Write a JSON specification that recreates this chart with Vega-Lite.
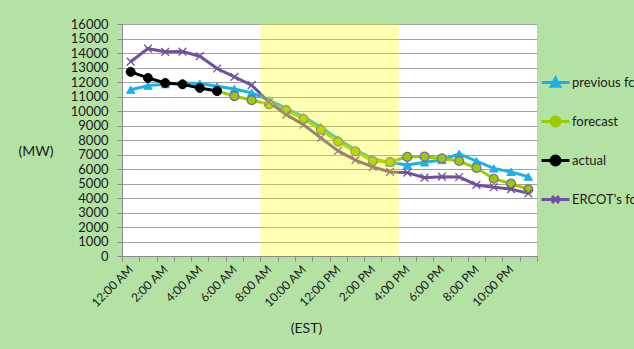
{
  "$schema": "https://vega.github.io/schema/vega-lite/v6.json",
  "width": 415,
  "height": 232,
  "autosize": {"type": "none"},
  "padding": {"left": 122, "top": 24, "right": 100, "bottom": 93},
  "background": "#b4e2a4",
  "config": {
    "font": "Lato",
    "view": {"stroke": null, "fill": "white"},
    "axis": {"labelFont": "Lato", "titleFont": "Lato", "labelColor": "#1a1a1a", "titleColor": "#1a1a1a", "titleFontWeight": "normal", "domainColor": "#8c8c8c", "tickColor": "#8c8c8c", "tickSize": 5}
  },
  "data": {"values": [
    {"hour": 0, "series": "previous fcst", "mw": 11470},
    {"hour": 1, "series": "previous fcst", "mw": 11750},
    {"hour": 2, "series": "previous fcst", "mw": 11850},
    {"hour": 3, "series": "previous fcst", "mw": 11930},
    {"hour": 4, "series": "previous fcst", "mw": 11890},
    {"hour": 5, "series": "previous fcst", "mw": 11700},
    {"hour": 6, "series": "previous fcst", "mw": 11520},
    {"hour": 7, "series": "previous fcst", "mw": 11250},
    {"hour": 8, "series": "previous fcst", "mw": 10750},
    {"hour": 9, "series": "previous fcst", "mw": 10180},
    {"hour": 10, "series": "previous fcst", "mw": 9600},
    {"hour": 11, "series": "previous fcst", "mw": 8900},
    {"hour": 12, "series": "previous fcst", "mw": 8050},
    {"hour": 13, "series": "previous fcst", "mw": 7330},
    {"hour": 14, "series": "previous fcst", "mw": 6700},
    {"hour": 15, "series": "previous fcst", "mw": 6450},
    {"hour": 16, "series": "previous fcst", "mw": 6270},
    {"hour": 17, "series": "previous fcst", "mw": 6460},
    {"hour": 18, "series": "previous fcst", "mw": 6620},
    {"hour": 19, "series": "previous fcst", "mw": 7050},
    {"hour": 20, "series": "previous fcst", "mw": 6540},
    {"hour": 21, "series": "previous fcst", "mw": 6040},
    {"hour": 22, "series": "previous fcst", "mw": 5800},
    {"hour": 23, "series": "previous fcst", "mw": 5470},
    {"hour": 5, "series": "forecast", "mw": 11380},
    {"hour": 6, "series": "forecast", "mw": 11030},
    {"hour": 7, "series": "forecast", "mw": 10740},
    {"hour": 8, "series": "forecast", "mw": 10460},
    {"hour": 9, "series": "forecast", "mw": 10040},
    {"hour": 10, "series": "forecast", "mw": 9450},
    {"hour": 11, "series": "forecast", "mw": 8700},
    {"hour": 12, "series": "forecast", "mw": 7880},
    {"hour": 13, "series": "forecast", "mw": 7210},
    {"hour": 14, "series": "forecast", "mw": 6550},
    {"hour": 15, "series": "forecast", "mw": 6480},
    {"hour": 16, "series": "forecast", "mw": 6840},
    {"hour": 17, "series": "forecast", "mw": 6850},
    {"hour": 18, "series": "forecast", "mw": 6730},
    {"hour": 19, "series": "forecast", "mw": 6550},
    {"hour": 20, "series": "forecast", "mw": 6070},
    {"hour": 21, "series": "forecast", "mw": 5330},
    {"hour": 22, "series": "forecast", "mw": 4990},
    {"hour": 23, "series": "forecast", "mw": 4590},
    {"hour": 0, "series": "actual", "mw": 12700},
    {"hour": 1, "series": "actual", "mw": 12280},
    {"hour": 2, "series": "actual", "mw": 11930},
    {"hour": 3, "series": "actual", "mw": 11840},
    {"hour": 4, "series": "actual", "mw": 11590},
    {"hour": 5, "series": "actual", "mw": 11380},
    {"hour": 0, "series": "ERCOT's fcst", "mw": 13400},
    {"hour": 1, "series": "ERCOT's fcst", "mw": 14300},
    {"hour": 2, "series": "ERCOT's fcst", "mw": 14080},
    {"hour": 3, "series": "ERCOT's fcst", "mw": 14100},
    {"hour": 4, "series": "ERCOT's fcst", "mw": 13780},
    {"hour": 5, "series": "ERCOT's fcst", "mw": 12930},
    {"hour": 6, "series": "ERCOT's fcst", "mw": 12350},
    {"hour": 7, "series": "ERCOT's fcst", "mw": 11780},
    {"hour": 8, "series": "ERCOT's fcst", "mw": 10620},
    {"hour": 9, "series": "ERCOT's fcst", "mw": 9750},
    {"hour": 10, "series": "ERCOT's fcst", "mw": 9050},
    {"hour": 11, "series": "ERCOT's fcst", "mw": 8150},
    {"hour": 12, "series": "ERCOT's fcst", "mw": 7250},
    {"hour": 13, "series": "ERCOT's fcst", "mw": 6610},
    {"hour": 14, "series": "ERCOT's fcst", "mw": 6150},
    {"hour": 15, "series": "ERCOT's fcst", "mw": 5800},
    {"hour": 16, "series": "ERCOT's fcst", "mw": 5750},
    {"hour": 17, "series": "ERCOT's fcst", "mw": 5400},
    {"hour": 18, "series": "ERCOT's fcst", "mw": 5470},
    {"hour": 19, "series": "ERCOT's fcst", "mw": 5450},
    {"hour": 20, "series": "ERCOT's fcst", "mw": 4900},
    {"hour": 21, "series": "ERCOT's fcst", "mw": 4740},
    {"hour": 22, "series": "ERCOT's fcst", "mw": 4610},
    {"hour": 23, "series": "ERCOT's fcst", "mw": 4320}
  ]},
  "resolve": {"scale": {"x": "independent"}, "axis": {"x": "independent"}},
  "layer": [
    {
      "encoding": {
        "x": {
          "field": "hour", "type": "ordinal",
          "scale": {"domain": [0,1,2,3,4,5,6,7,8,9,10,11,12,13,14,15,16,17,18,19,20,21,22,23], "paddingInner": 0, "paddingOuter": 0}
        },
        "y": {
          "field": "mw", "type": "quantitative",
          "scale": {"domain": [0, 16000], "nice": false},
          "axis": {
            "title": "(MW)", "titleAngle": 0, "titleFontSize": 14, "titleAlign": "left", "titleBaseline": "middle", "titleX": -104, "titleY": 127,
            "values": [0,1000,2000,3000,4000,5000,6000,7000,8000,9000,10000,11000,12000,13000,14000,15000,16000],
            "format": "d", "labelFontSize": 13, "labelPadding": 9, "grid": true, "gridColor": "#a0a0a0", "gridWidth": 1
          }
        }
      },
      "layer": [
        {
          "mark": {"type": "line", "strokeWidth": 3},
          "encoding": {
            "x": {
              "field": "hour", "type": "ordinal",
              "axis": {
                "title": "(EST)", "titleFontSize": 14, "titleX": 184, "titleY": 72, "titleAlign": "center", "titleBaseline": "middle",
                "labelAngle": -45, "labelAlign": "right", "labelBaseline": "middle", "labelFontSize": 12, "labelPadding": 6,
                "labelOverlap": false, "tickBand": "extent", "grid": false,
                "labelExpr": "!isNumber(datum.value) || datum.value % 2 ? '' : ((datum.value % 12 == 0 ? 12 : datum.value % 12) + ':00 ' + (datum.value < 12 ? 'AM' : 'PM'))"
              }
            },
            "color": {
              "field": "series", "type": "nominal",
              "scale": {"domain": ["previous fcst", "forecast", "actual", "ERCOT's fcst"], "range": ["#1ab0e8", "#99cc00", "#000000", "#7050a0"]},
              "legend": {
                "title": null, "orient": "none", "legendX": 418, "legendY": 43,
                "symbolSize": 784, "symbolStrokeWidth": 3, "rowPadding": 13, "labelOffset": 1,
                "labelFontSize": 13, "labelFont": "Lato", "labelColor": "#1a1a1a", "labelLimit": 200,
                "encode": {"symbols": {"update": {
                  "shape": {"signal": "datum.value == 'previous fcst' ? 'M-1,0L1,0M-0.3,0.26L0,-0.3L0.3,0.26Z' : (datum.value == 'actual' || datum.value == 'forecast') ? 'M-1,0L1,0M-0.32,0A0.32,0.32 0 1 1 0.32,0A0.32,0.32 0 1 1 -0.32,0Z' : 'M-1,0L1,0M-0.25,-0.25L0.25,0.25M-0.25,0.25L0.25,-0.25'"},
                  "fill": {"scale": "color", "field": "value"},
                  "strokeWidth": {"value": 3}
                }}}
              }
            }
          }
        },
        {
          "transform": [{"filter": "datum.series == 'previous fcst'"}],
          "mark": {"type": "point", "shape": "triangle-up", "size": 70, "filled": true, "fill": "#1ab0e8", "stroke": "#1ab0e8", "strokeWidth": 1, "opacity": 1}
        },
        {
          "transform": [{"filter": "datum.series == 'forecast'"}],
          "mark": {"type": "point", "shape": "circle", "size": 80, "filled": true, "fill": "#99cc00", "stroke": "#8064a2", "strokeWidth": 1.2, "opacity": 1}
        },
        {
          "transform": [{"filter": "datum.series == 'actual'"}],
          "mark": {"type": "point", "shape": "circle", "size": 80, "filled": true, "fill": "#000000", "stroke": "#000000", "strokeWidth": 1, "opacity": 1}
        },
        {
          "transform": [{"filter": "indexof(datum.series, 'ERCOT') >= 0"}],
          "mark": {"type": "point", "shape": "M-1,-1L1,1M-1,1L1,-1", "size": 60, "filled": false, "stroke": "#7050a0", "strokeWidth": 1.3, "opacity": 1}
        }
      ]
    },
    {
      "data": {"values": [{"from": 8, "to": 16}]},
      "mark": {"type": "rect", "fill": "#ffff00", "opacity": 0.3},
      "encoding": {
        "x": {"field": "from", "type": "quantitative", "scale": {"domain": [0, 24], "nice": false, "zero": false}, "axis": null},
        "x2": {"field": "to"}
      }
    }
  ]
}
